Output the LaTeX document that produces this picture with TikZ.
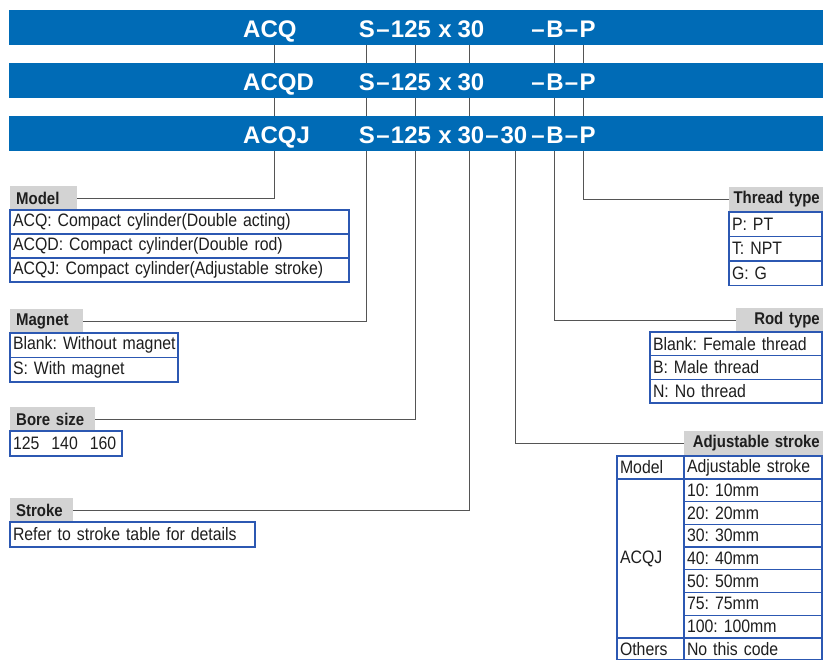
\documentclass[tikz,border=0pt]{standalone}
\usepackage{fontspec}
\setmainfont{Liberation Sans}
\newfontfamily\narrowsans{Liberation Sans}[FakeStretch=0.88]
\frenchspacing
\usetikzlibrary{positioning}
\definecolor{barblue}{RGB}{0,107,182}
\definecolor{cellblue}{RGB}{44,88,178}
\definecolor{tabgray}{RGB}{211,211,211}
\definecolor{wiregray}{RGB}{85,85,85}
\definecolor{ink}{RGB}{30,30,30}
\tikzset{
  codebar/.style={fill=barblue, minimum width=814pt, minimum height=34.5pt, inner sep=0pt, anchor=north west},
  codetext/.style={text=white, font=\fontsize{24}{24}\selectfont\bfseries, inner sep=0pt, anchor=base},
  heading/.style={fill=tabgray, text=ink, font=\narrowsans\fontsize{17}{17}\selectfont\bfseries,
                  minimum height=23.5pt, inner xsep=3pt, inner ysep=0pt},
  cell/.style={draw=cellblue, line width=1.2pt, text=ink, font=\narrowsans\fontsize{18}{18}\selectfont,
               inner xsep=3pt, inner ysep=0pt, outer sep=0pt, align=left},
  wire/.style={draw=wiregray, line width=1pt},
}

\begin{document}
\begin{tikzpicture}[x=1pt, y=-1pt]
  \path[fill=white] (0,0) rectangle (823,660);
  \useasboundingbox (0,0) rectangle (823,660);

  % order code bars
  \foreach \mdl [count=\i] in {ACQ,ACQD,ACQJ} {
    \pgfmathsetmacro\ytop{10+53*(\i-1)}
    \node[codebar] (bar\i) at (9,\ytop) {};
    \node[codetext, anchor=base west] (mdl\i) at (243,\ytop+27.5) {\mdl};
    \foreach \xx/\tok [count=\k] in {367/S, 383/–, 411/125, 445/x, 471/30, 538/–, 555/B, 571.5/–, 587.5/P}
      \node[codetext] (tok\i-\k) at (\xx,\ytop+27.5) {\tok};
  }
  \node[codetext] (tok3-10) at (492,143.5) {–};
  \node[codetext] (tok3-11) at (514,143.5) {30};

  \coordinate (pModel) at (274,0);
  \coordinate (pMagnet) at (366,0);
  \coordinate (pBore) at (415,0);
  \coordinate (pStroke) at (469,0);
  \coordinate (pAdj) at (515,0);
  \coordinate (pRod) at (554,0);
  \coordinate (pThread) at (583,0);

  \foreach \p in {pModel,pMagnet,pBore,pStroke,pRod,pThread} {
    \draw[wire] (\p |- bar1.south) -- (\p |- bar2.north);
    \draw[wire] (\p |- bar2.south) -- (\p |- bar3.north);
  }

  % model
  \node[heading, anchor=south west, inner xsep=6pt, text width=55pt, align=left] (hModel) at (10,210) {Model};
  \node[cell, anchor=north west, text width=333pt, minimum height=24pt] (model1) at (10,210) {ACQ: Compact cylinder(Double acting)};
  \node[cell, text width=333pt, minimum height=24pt, below=0pt of model1] (model2) {ACQD: Compact cylinder(Double rod)};
  \node[cell, text width=333pt, minimum height=24pt, below=0pt of model2] (model3) {ACQJ: Compact cylinder(Adjustable stroke)};

  % magnet
  \node[heading, anchor=south west, inner xsep=6pt, text width=61pt, align=left] (hMagnet) at (10,333) {Magnet};
  \node[cell, anchor=north west, text width=162pt, minimum height=24.5pt] (mag1) at (10,333) {\mbox{Blank: Without magnet}};
  \node[cell, text width=162pt, minimum height=24.5pt, below=0pt of mag1] (mag2) {S: With magnet};

  % bore size
  \node[heading, anchor=south west, inner xsep=6pt, text width=73pt, align=left] (hBore) at (10,431) {Bore~size};
  \node[cell, anchor=north west, text width=106pt, minimum height=25pt] (bore1) at (10,431) {125~~140~~160};

  % stroke
  \node[heading, anchor=south west, inner xsep=6pt, text width=51pt, align=left] (hStroke) at (10,522) {Stroke};
  \node[cell, anchor=north west, text width=239pt, minimum height=25pt] (stroke1) at (10,522) {Refer to stroke table for details};

  % thread type
  \node[heading, anchor=south east, text width=88pt, align=right] (hThread) at (823,211) {Thread~type};
  \node[cell, anchor=north west, text width=87pt, minimum height=24.5pt] (thr1) at (729,212) {P: PT};
  \node[cell, text width=87pt, minimum height=24.5pt, below=0pt of thr1] (thr2) {T: NPT};
  \node[cell, text width=87pt, minimum height=24.5pt, below=0pt of thr2] (thr3) {G: G};

  % rod type
  \node[heading, anchor=south east, text width=81pt, align=right] (hRod) at (823,332) {Rod~type};
  \node[cell, anchor=north west, text width=166pt, minimum height=23.7pt] (rod1) at (650,332) {Blank: Female thread};
  \node[cell, text width=166pt, minimum height=23.7pt, below=0pt of rod1] (rod2) {B: Male thread};
  \node[cell, text width=166pt, minimum height=23.7pt, below=0pt of rod2] (rod3) {N: No thread};

  % adjustable stroke
  \node[heading, anchor=south east, text width=133pt, align=right] (hAdj) at (823,455) {Adjustable~stroke};
  \node[cell, anchor=north west, text width=61pt, minimum height=23pt] (adjM) at (617,456) {Model};
  \node[cell, anchor=north west, text width=132pt, minimum height=23pt] (adjA) at (684,456) {Adjustable stroke};
  \node[cell, anchor=north west, text width=61pt, minimum height=159pt] (adjJ) at (617,479) {ACQJ};
  \foreach \len [count=\k] in {10,20,30,40,50,75,100}
    \node[cell, anchor=north west, text width=132pt, minimum height=22.7pt] (adj\k) at (684,{479+22.7*(\k-1)}) {\len: \len mm};
  \node[cell, anchor=north west, text width=61pt, minimum height=22pt] (adjO) at (617,638) {Others};
  \node[cell, anchor=north west, text width=132pt, minimum height=22pt] (adjN) at (684,638) {No this code};

  % leaders
  \draw[wire] (hModel.east) -| (pModel |- bar3.south);
  \draw[wire] (hMagnet.east) -| (pMagnet |- bar3.south);
  \draw[wire] (hBore.east) -| (pBore |- bar3.south);
  \draw[wire] (hStroke.east) -| (pStroke |- bar3.south);
  \draw[wire] (hAdj.west) -| (pAdj |- bar3.south);
  \draw[wire] (hRod.west) -| (pRod |- bar3.south);
  \draw[wire] (hThread.west) -| (pThread |- bar3.south);
\end{tikzpicture}
\end{document}
